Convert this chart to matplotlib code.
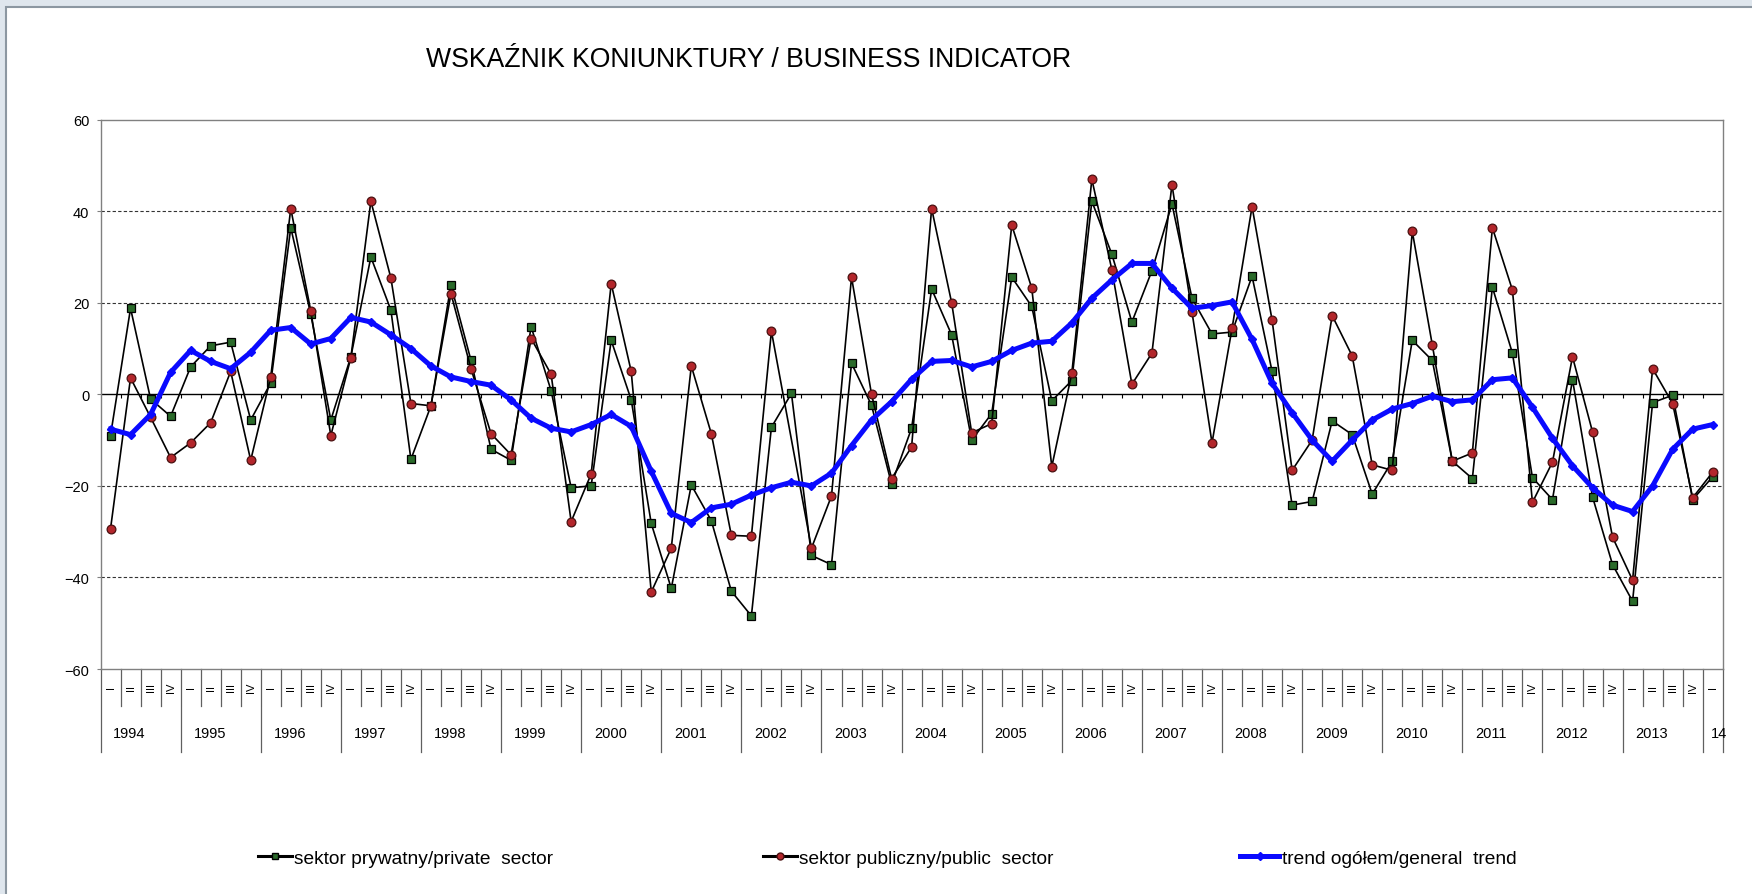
import numpy as np
import matplotlib
matplotlib.use('Agg')
import matplotlib.pyplot as plt
from matplotlib.patches import Rectangle
from matplotlib.lines import Line2D

plt.rcParams['font.family'] = ['Liberation Sans', 'DejaVu Sans']

title = 'WSKAŹNIK KONIUNKTURY / BUSINESS INDICATOR'
years = ['1994', '1995', '1996', '1997', '1998', '1999', '2000', '2001', '2002', '2003',
         '2004', '2005', '2006', '2007', '2008', '2009', '2010', '2011', '2012', '2013', '14']
quarters = ['I', 'II', 'III', 'IV'] * 20 + ['I']
labels = ['sektor prywatny/private  sector', 'sektor publiczny/public  sector',
          'trend ogółem/general  trend']

private = [-9.0, 18.8, -1.0, -4.8, 6.0, 10.6, 11.4, -5.6,
           2.5, 36.4, 17.5, -5.6, 8.2, 30.0, 18.4, -14.2,
           -2.5, 23.9, 7.4, -12.0, -14.4, 14.8, 0.8, -20.4,
           -20.0, 11.8, -1.2, -28.2, -42.4, -19.8, -27.6, -43.0,
           -48.4, -7.2, 0.2, -35.2, -37.2, 6.8, -2.4, -19.6,
           -7.4, 23.0, 13.0, -10.0, -4.2, 25.6, 19.2, -1.4,
           3.0, 42.2, 30.6, 15.8, 27.0, 41.6, 21.0, 13.2,
           13.6, 25.8, 5.0, -24.2, -23.4, -5.8, -8.8, -21.8,
           -14.6, 11.8, 7.4, -14.6, -18.4, 23.4, 9.0, -18.2,
           -23.0, 3.2, -22.4, -37.2, -45.2, -1.8, -0.2, -23.0,
           -18.0]

public = [-29.4, 3.6, -5.0, -13.8, -10.6, -6.2, 5.0, -14.4,
          3.8, 40.6, 18.2, -9.0, 8.0, 42.2, 25.4, -2.0,
          -2.5, 22.0, 5.6, -8.6, -13.2, 12.2, 4.4, -27.8,
          -17.4, 24.2, 5.0, -43.2, -33.6, 6.2, -8.6, -30.8,
          -31.0, 13.8, np.nan, -33.6, -22.2, 25.6, 0.0, -18.4,
          -11.5, 40.6, 20.0, -8.4, -6.4, 37.0, 23.2, -15.8,
          4.6, 47.0, 27.2, 2.2, 9.0, 45.8, 18.0, -10.6,
          14.4, 41.0, 16.2, -16.6, -10.0, 17.2, 8.4, -15.4,
          -16.6, 35.6, 10.8, -14.6, -12.8, 36.4, 22.8, -23.6,
          -14.8, 8.2, -8.2, -31.2, -40.6, 5.6, -2.0, -22.6,
          -17.0]

trend = [-7.6, -8.8, -4.4, 4.8, 9.6, 7.2, 5.6, 9.2,
         14.0, 14.6, 11.0, 12.2, 16.8, 15.8, 13.0, 10.0,
         6.2, 3.8, 2.8, 2.0, -1.2, -5.2, -7.4, -8.2,
         -6.6, -4.4, -7.0, -16.8, -26.0, -28.0, -24.8, -24.0,
         -22.0, -20.4, -19.2, -20.0, -17.2, -11.2, -5.6, -1.6,
         3.3, 7.2, 7.4, 6.0, 7.2, 9.6, 11.2, 11.6,
         15.6, 21.0, 25.0, 28.6, 28.6, 23.2, 18.8, 19.4,
         20.2, 12.0, 2.4, -4.0, -10.0, -14.6, -10.0, -5.6,
         -3.2, -2.0, -0.4, -1.6, -1.2, 3.2, 3.6, -2.8,
         -9.6, -15.6, -20.4, -24.2, -25.6, -20.0, -12.0, -7.6,
         -6.6]

W, H = 1752, 895
fig = plt.figure(figsize=(W / 100, H / 100), dpi=100)
fig.patch.set_facecolor('#dfe6ed')
fig.add_artist(Rectangle((6 / W, -0.01), 1.0, (H - 8) / H + 0.01, transform=fig.transFigure,
                         facecolor='white', edgecolor='#8c97a1', lw=1.5, zorder=-10))

ax_l, ax_r, ax_t, ax_b = 100.5, 1722.7, 120.7, 670.0
ax = fig.add_axes([ax_l / W, 1 - ax_b / H, (ax_r - ax_l) / W, (ax_b - ax_t) / H])
ax.set_facecolor('white')
n = len(private)
x = np.arange(n)
ax.set_xlim(-0.5, n - 0.5)
ax.set_ylim(-60, 60)

for s in ax.spines.values():
    s.set_color('#808080')
    s.set_linewidth(1.0)

for v in [-40, -20, 20, 40]:
    ax.axhline(v, color='#333333', lw=0.8, ls=(0, (3, 2)), zorder=1)
ax.axhline(0, color='black', lw=1.0, zorder=1)
bounds = np.arange(n + 1) - 0.5
ax.vlines(bounds[1:-1], -0.9, 0, color='black', lw=0.8, zorder=1)

ax.set_yticks(range(-60, 61, 20))
ax.tick_params(axis='y', direction='out', length=3, color='#808080', labelsize=10.5, pad=5)
ax.set_xticks([])

priv = np.array(private, dtype=float)
pub = np.array(public, dtype=float)
tr = np.array(trend, dtype=float)

ax.plot(x, priv, color='black', lw=1.2, marker='s', ms=6.3, mfc='#2a6a2a', mec='black',
        mew=0.9, zorder=3)
m = ~np.isnan(pub)
ax.plot(x[m], pub[m], color='black', lw=1.2, marker='o', ms=6.3, mfc='#b3262b', mec='#4a1010',
        mew=0.9, zorder=4)
ax.plot(x, tr, color='#0a0aff', lw=3.6, marker='D', ms=4.5, mfc='#0a0aff', mec='#0a0aff',
        zorder=5)

# multi-level category labels
xt = ax.get_xaxis_transform()
axh = ax_b - ax_t
q_bot = -(707 - ax_b) / axh
y_bot = -(753 - ax_b) / axh
for b in range(n + 1):
    bx = b - 0.5
    low = y_bot if (b % 4 == 0 or b == n) else q_bot
    ax.plot([bx, bx], [0, low], transform=xt, color='#606060', lw=0.9, clip_on=False)
for i, q in enumerate(quarters):
    ax.text(i, -(688 - ax_b) / axh, q, rotation=90, ha='center', va='center', fontsize=8,
            transform=xt, clip_on=False)
for k, yr in enumerate(years):
    cx = 4 * k + 0.95 if k < len(years) - 1 else 4 * k + 0.3
    ax.text(cx, -(734 - ax_b) / axh, yr, ha='center', va='center', fontsize=10.5,
            transform=xt, clip_on=False)

fig.text(749 / W, 1 - 60 / H, title, ha='center', va='center', fontsize=19.2)

handles = [
    Line2D([], [], color='black', lw=2.2, marker='s', ms=5, mfc='#2a6a2a', mec='black'),
    Line2D([], [], color='black', lw=2.2, marker='o', ms=5, mfc='#b3262b', mec='#4a1010'),
    Line2D([], [], color='#0a0aff', lw=3.6, marker='D', ms=4, mfc='#0a0aff', mec='#0a0aff'),
]
starts = [258, 763, 1240]
hlens = [1.75, 1.75, 2.05]
for h, lab, sx, hl in zip(handles, labels, starts, hlens):
    fig.legend([h], [lab], loc='center left', bbox_to_anchor=(sx / W, 1 - 859 / H),
               frameon=False, fontsize=13.8, handlelength=hl, handletextpad=0.15,
               borderpad=0, borderaxespad=0)

fig.savefig('out.png', dpi=100, facecolor=fig.get_facecolor())
